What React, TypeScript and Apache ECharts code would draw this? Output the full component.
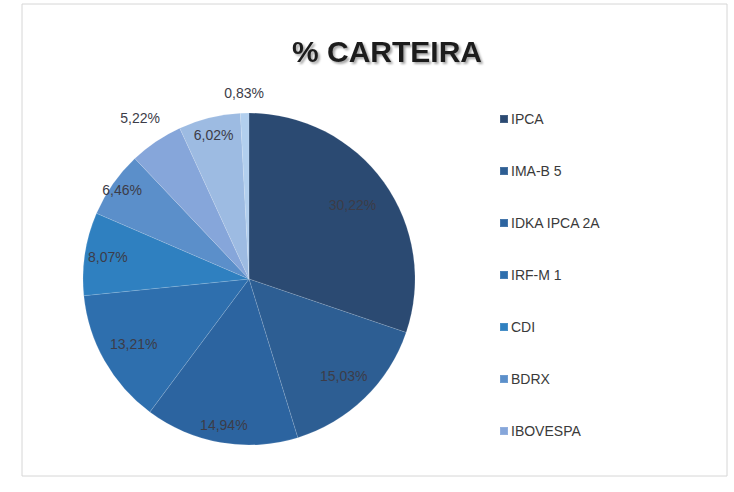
import React, { useEffect, useRef } from "react";
import * as echarts from "echarts";

const categories = ["IPCA", "IMA-B 5", "IDKA IPCA 2A", "IRF-M 1", "CDI", "BDRX", "IBOVESPA", "(8)", "(9)"];
const legendNames = ["IPCA", "IMA-B 5", "IDKA IPCA 2A", "IRF-M 1", "CDI", "BDRX", "IBOVESPA"];
const values = [30.22, 15.03, 14.94, 13.21, 8.07, 6.46, 5.22, 6.02, 0.83];

const colors = ["#2b4a72", "#2d5e93", "#2c64a0", "#2e6fae", "#2f80c0", "#5b8fca", "#86a6da", "#9dbbe2", "#b2cfee"];
const labelRadius = [0.74, 0.79, 0.86, 0.77, 0.83, 0.9, 1.13, 0.86, 1.08];

const CX = 249;
const CY = 279;
const R = 166;

export default function App() {
  const ref = useRef<HTMLDivElement>(null);
  useEffect(() => {
    document.body.style.margin = "0";
    const chart = echarts.init(ref.current!, null, { renderer: "svg" });
    chart.setOption({
      animation: false,
      backgroundColor: "#ffffff",
      title: {
        text: "% CARTEIRA",
        left: 382,
        textAlign: "center",
        top: 31,
        textStyle: {
          fontFamily: "Liberation Sans",
          fontWeight: "bold",
          fontSize: 30,
          color: "#1e1e1e",
          textShadowColor: "rgba(0,0,0,0.35)",
          textShadowBlur: 2,
          textShadowOffsetX: 2,
          textShadowOffsetY: 2,
        },
      },
      graphic: [
        {
          type: "rect",
          shape: { x: 22, y: 4, width: 705, height: 472 },
          style: { fill: "none", stroke: "#d6d6d6", lineWidth: 1 },
          silent: true,
        },
      ],
      legend: {
        orient: "vertical",
        left: 494,
        top: 107,
        data: legendNames,
        icon: "rect",
        itemWidth: 8,
        itemHeight: 8,
        itemGap: 38,
        textStyle: {
          fontFamily: "Liberation Sans",
          fontSize: 14,
          lineHeight: 14,
          color: "#3a3a3a",
          padding: [0, 0, 0, -2],
        },
      },
      series: [
        {
          type: "pie",
          center: [CX, CY],
          radius: [0, R],
          startAngle: 90,
          clockwise: true,
          avoidLabelOverlap: false,
          data: categories.map((name, i) => ({
            name,
            value: values[i],
            itemStyle: { color: colors[i] },
          })),
          itemStyle: { borderColor: "rgba(255,255,255,0.12)", borderWidth: 1 },
          label: {
            show: true,
            position: "inside",
            align: "center",
            verticalAlign: "middle",
            formatter: (p: any) => p.value.toFixed(2).replace(".", ",") + "%",
            fontFamily: "Liberation Sans",
            fontSize: 14,
            color: "#3c3c48",
          },
          labelLine: { show: false },
          labelLayout: (params: any) => {
            const r = params.labelRect;
            const lx = r.x + r.width / 2;
            const ly = r.y + r.height / 2;
            const k = 2 * labelRadius[params.dataIndex];
            return { x: CX + (lx - CX) * k, y: CY + (ly - CY) * k };
          },
          emphasis: { disabled: true },
        },
      ],
    });
    return () => chart.dispose();
  }, []);
  return <div ref={ref} style={{ position: "fixed", left: 0, top: 0, width: 734, height: 492 }} />;
}
